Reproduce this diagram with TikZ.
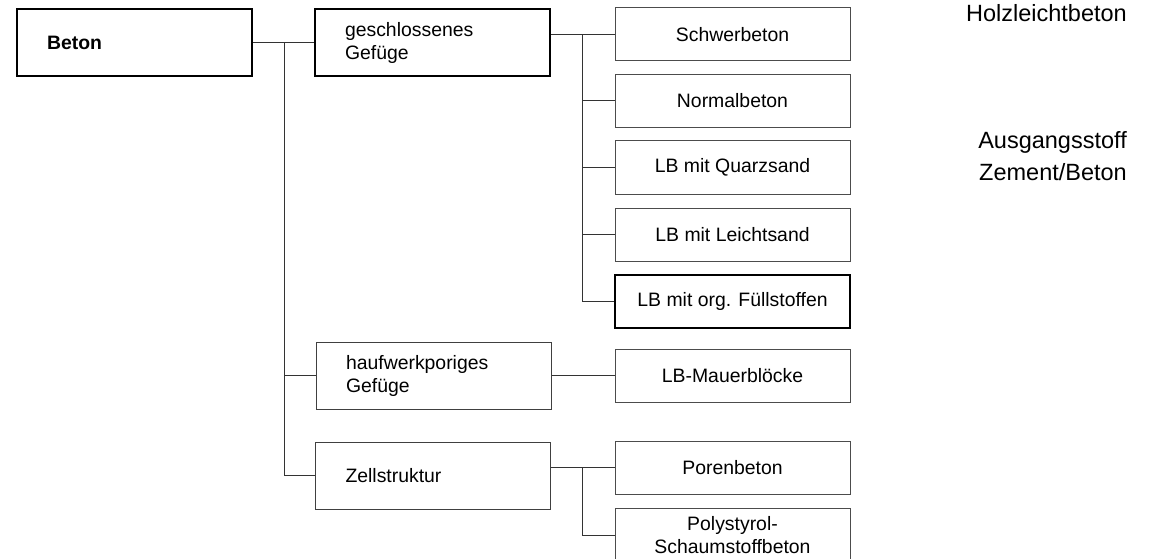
\documentclass[tikz,border=0pt]{standalone}
\usepackage{fontspec}
\setmainfont{Liberation Sans}
\usepackage{tikz}

\tikzset{
  box/.style={shape=rectangle,draw=black!70,line width=1pt,minimum width=235pt,minimum height=53pt,inner sep=0pt,align=center},
  headbox/.style={shape=rectangle,draw=black,line width=1.5pt,text width=175pt,inner xsep=30pt,inner ysep=0pt,minimum height=67pt,align=left},
  subbox/.style={headbox,draw=black!75,line width=1pt},
  sidelabel/.style={anchor=east,inner sep=0pt,align=right,font=\fontsize{23.5}{32}\selectfont},
  link/.style={draw=black!80,line width=1pt}
}

\begin{document}
\begin{tikzpicture}[x=1pt,y=-1pt,font=\fontsize{19.4}{23}\selectfont]
    \useasboundingbox (0,0) rectangle (1151,559);
    \node[headbox] (0) at (134.5,42.5) {\textbf{Beton}};
    \node[headbox] (1) at (432.5,42.5) {geschlossenes\\Gefüge};
    \node[subbox] (2) at (433.5,375.5) {haufwerkporiges\\Gefüge};
    \node[subbox] (3) at (433,475.5) {Zellstruktur};
    \node[box] (4) at (732.5,34.5) {Schwerbeton};
    \node[box] (5) at (732.5,101) {Normalbeton};
    \node[box] (6) at (732.5,167.5) {LB mit Quarzsand};
    \node[box] (7) at (732.5,234.5) {LB mit Leichtsand};
    \node[box,draw=black,line width=1.5pt] (8) at (732.5,301.5) {LB mit org. Füllstoffen};
    \node[box] (9) at (732.5,375.5) {LB-Mauerblöcke};
    \node[box] (10) at (732.5,467.5) {Porenbeton};
    \node[box] (11) at (732.5,535) {Polystyrol-\\Schaumstoffbeton};
    \node[sidelabel] (12) at (1127,13) {Holzleichtbeton};
    \node[sidelabel] (13) at (1127,156) {Ausgangsstoff\\Zement/Beton};
    \coordinate (t0) at (284,42.5);
    \coordinate (t1) at (582,34.5);
    \coordinate (t3) at (582,467.5);
    \draw[link] (0) -- (1);
    \draw[link] (t0) |- (2);
    \draw[link] (t0) |- (3);
    \draw[link] (1.east |- 4) -- (4);
    \draw[link] (t1) |- (5);
    \draw[link] (t1) |- (6);
    \draw[link] (t1) |- (7);
    \draw[link] (t1) |- (8);
    \draw[link] (2) -- (9);
    \draw[link] (3.east |- 10) -- (10);
    \draw[link] (t3) |- (11);
\end{tikzpicture}
\end{document}
